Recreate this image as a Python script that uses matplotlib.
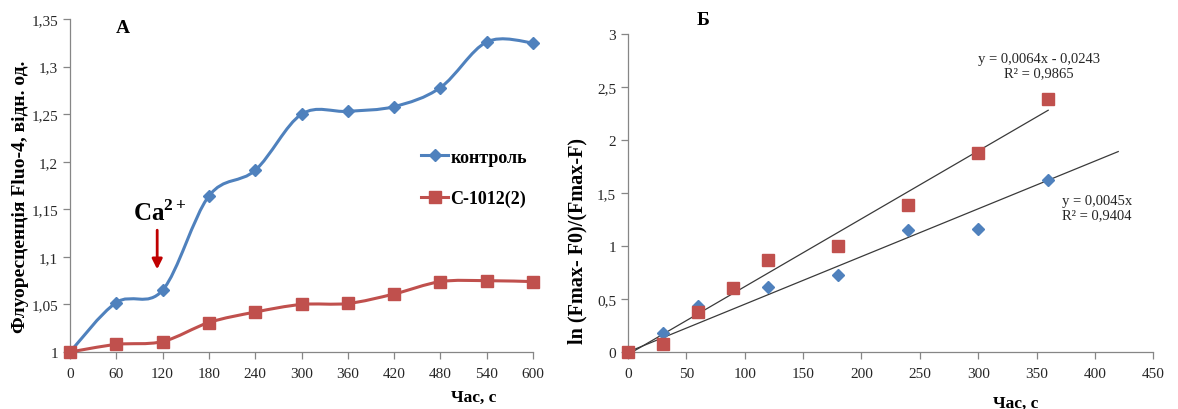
import matplotlib
matplotlib.use("Agg")
import matplotlib.pyplot as plt
from matplotlib.path import Path
from matplotlib.patches import PathPatch
from matplotlib.ticker import FuncFormatter
from matplotlib.lines import Line2D

plt.rcParams['font.family'] = ['Liberation Serif', 'DejaVu Serif']
plt.rcParams['mathtext.fontset'] = 'custom'
plt.rcParams['mathtext.rm'] = 'Liberation Serif'
plt.rcParams['mathtext.bf'] = 'Liberation Serif:bold'

# panel A data
time_a = [0, 60, 120, 180, 240, 300, 360, 420, 480, 540, 600]
control = [1.0, 1.052, 1.065, 1.164, 1.191, 1.250, 1.253, 1.258, 1.278, 1.326, 1.325]
c1012 = [1.0, 1.008, 1.011, 1.031, 1.042, 1.050, 1.051, 1.061, 1.074, 1.075, 1.074]

# panel B data
time_b_blue = [0, 30, 60, 120, 180, 240, 300, 360]
ln_blue = [0.0, 0.18, 0.43, 0.61, 0.73, 1.15, 1.16, 1.62]
time_b_red = [0, 30, 60, 90, 120, 180, 240, 300, 360]
ln_red = [0.0, 0.08, 0.38, 0.60, 0.87, 1.00, 1.39, 1.88, 2.39]
fit_red = (0.0064, -0.0243, 0, 360)
fit_blue = (0.0045, 0.0, 0, 420)

BLUE = '#4F81BD'
RED = '#C0504D'
SPINE = '#868686'
TXT = '#262626'


def comma(v, pos):
    s = ('%g' % round(v, 4))
    return s.replace('.', ',')


def smooth_path(xs, ys):
    # excel-like smoothed line as cubic bezier segments
    pts = list(zip(xs, ys))
    n = len(pts)
    verts = [pts[0]]
    codes = [Path.MOVETO]
    for i in range(n - 1):
        p0 = pts[i - 1] if i > 0 else pts[i]
        p1 = pts[i]
        p2 = pts[i + 1]
        p3 = pts[i + 2] if i + 2 < n else pts[i + 1]
        c1 = (p1[0] + (p2[0] - p0[0]) / 6, p1[1] + (p2[1] - p0[1]) / 6)
        c2 = (p2[0] - (p3[0] - p1[0]) / 6, p2[1] - (p3[1] - p1[1]) / 6)
        verts += [c1, c2, p2]
        codes += [Path.CURVE4] * 3
    return Path(verts, codes)


def style_axes(ax):
    for s in ['top', 'right']:
        ax.spines[s].set_visible(False)
    for s in ['left', 'bottom']:
        ax.spines[s].set_color(SPINE)
        ax.spines[s].set_linewidth(0.9)
    ax.tick_params(colors=SPINE, labelcolor=TXT, labelsize=11, length=5, width=0.9)
    ax.xaxis.set_major_formatter(FuncFormatter(comma))
    ax.yaxis.set_major_formatter(FuncFormatter(comma))


fig = plt.figure(figsize=(11.78, 4.10), dpi=100)

# ---- panel A
ax1 = fig.add_axes([0.0594, 0.139, 0.3931, 0.812])
style_axes(ax1)
ax1.set_xlim(0, 600)
ax1.set_ylim(1.0, 1.35)
ax1.set_xticks(time_a)
ax1.set_yticks([1.0, 1.05, 1.1, 1.15, 1.2, 1.25, 1.3, 1.35])
ax1.tick_params(axis='x', pad=6)

ax1.add_patch(PathPatch(smooth_path(time_a, control), fill=False, ec=BLUE, lw=2.2, zorder=3, clip_on=False))
ax1.add_patch(PathPatch(smooth_path(time_a, c1012), fill=False, ec=RED, lw=2.2, zorder=3, clip_on=False))
ax1.plot(time_a, control, ls='none', marker='D', ms=6, color=BLUE, zorder=4, clip_on=False)
ax1.plot(time_a, c1012, ls='none', marker='s', ms=8, color=RED, zorder=4, clip_on=False)

handles = [Line2D([], [], color=BLUE, lw=2.2, marker='D', ms=6),
           Line2D([], [], color=RED, lw=2.2, marker='s', ms=8)]
ax1.legend(handles, ['контроль', 'С-1012(2)'], loc='upper left',
           bbox_to_anchor=(0.724, 0.66), frameon=False, handlelength=1.45,
           handletextpad=0.15, labelspacing=1.35,
           prop={'family': 'Liberation Serif', 'weight': 'bold', 'size': 13})

ax1.text(116, 1.147, r'$\mathbf{Ca}^{\mathbf{2+}}$', ha='center', va='center', fontsize=18,
         color='black')
ax1.annotate('', xy=(113, 1.084), xytext=(113, 1.131),
             arrowprops=dict(arrowstyle='-|>', color='#C00000', lw=2, mutation_scale=15))
fig.text(0.104, 0.93, 'А', fontsize=14, fontweight='bold', ha='center', va='center')

fig.text(0.017, 0.52, 'Флуоресценція Fluo-4, відн. од.', rotation=90, ha='center',
         va='center', fontsize=14, fontweight='bold')
fig.text(0.402, 0.03, 'Час, с', ha='center', va='center', fontsize=12.5, fontweight='bold')

# ---- panel B
ax2 = fig.add_axes([0.533, 0.139, 0.446, 0.776])
style_axes(ax2)
ax2.set_xlim(0, 450)
ax2.set_ylim(0, 3)
ax2.set_xticks(range(0, 451, 50))
ax2.set_yticks([0, 0.5, 1, 1.5, 2, 2.5, 3])
ax2.tick_params(axis='x', pad=6)

for k, b, x0, x1 in [fit_red, fit_blue]:
    ax2.plot([x0, x1], [k * x0 + b, k * x1 + b], color='#3a3a3a', lw=0.9, zorder=2, clip_on=False)
ax2.plot(time_b_blue, ln_blue, ls='none', marker='D', ms=6, color=BLUE, zorder=3, clip_on=False)
ax2.plot(time_b_red, ln_red, ls='none', marker='s', ms=8, color=RED, zorder=4, clip_on=False)

ax2.text(352, 2.7, 'y = 0,0064x - 0,0243\nR² = 0,9865', ha='center', va='center',
         fontsize=10.5, color=TXT, linespacing=1.1)
ax2.text(372, 1.36, 'y = 0,0045x\nR² = 0,9404', ha='left', va='center',
         fontsize=10.5, color=TXT, linespacing=1.1)
fig.text(0.597, 0.951, 'Б', fontsize=14, fontweight='bold', ha='center', va='center')

fig.text(0.49, 0.412, 'ln (Fmax- F0)/(Fmax-F)', rotation=90, ha='center',
         va='center', fontsize=14.5, fontweight='bold')
fig.text(0.862, 0.015, 'Час, с', ha='center', va='center', fontsize=12.5, fontweight='bold')

fig.savefig('out.png', dpi=100)
